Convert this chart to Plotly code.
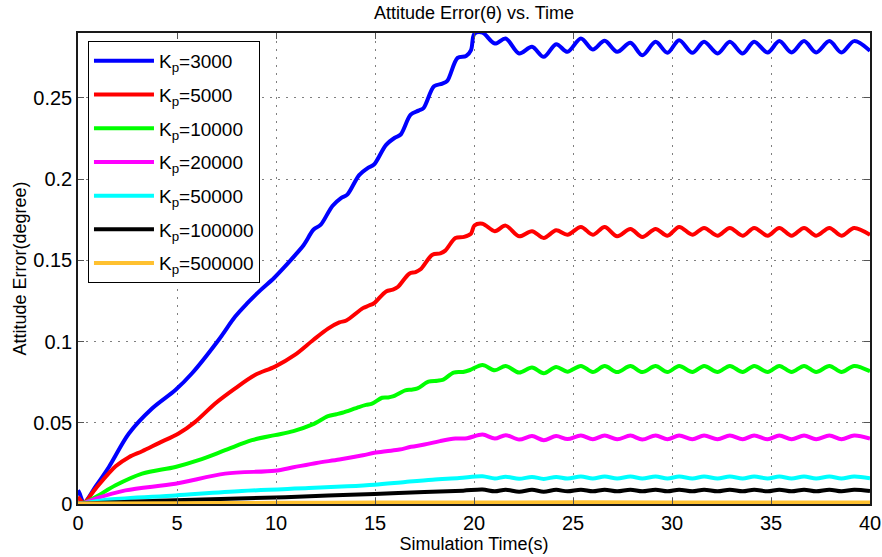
import plotly.graph_objects as go

# ---------------- data ----------------
# shared times of the peaks/troughs in the steady oscillation after t=20 s
t_ss = [20.43, 21.05, 21.6, 22.28, 22.93, 23.52, 24.15, 24.72, 25.4, 26.0, 26.6, 27.23,
        27.9, 28.5, 29.17, 29.77, 30.36, 31.03, 31.62, 32.3, 32.92, 33.57, 34.15, 34.83,
        35.42, 36.04, 36.67, 37.28, 37.95, 38.56, 39.2, 40.0]

# Kp = 3000
t_kp3000 = [0, 0.08, 0.3, 0.9, 1.56, 2.57, 3.74, 4.92, 5.76, 7.1, 7.94, 8.54, 9.22, 9.89,
            10.55, 10.9, 11.4, 11.9, 12.25, 12.85, 13.3, 13.6, 14.2, 14.65, 14.95, 15.55,
            16.0, 16.3, 16.8, 17.2, 17.45, 17.98, 18.4, 18.65, 19.17, 19.6, 19.85, 20.02]
v_kp3000 = [0.0085, 0.0065, 0.001, 0.011, 0.0228, 0.0434, 0.0588, 0.0702, 0.0805, 0.101,
            0.1154, 0.1235, 0.1317, 0.139, 0.1475, 0.1523, 0.1595, 0.169, 0.1718, 0.1835,
            0.1885, 0.1905, 0.2025, 0.207, 0.209, 0.221, 0.2255, 0.2275, 0.2397, 0.2422,
            0.2438, 0.2572, 0.2588, 0.2605, 0.2747, 0.2758, 0.2795, 0.2895]
ss_kp3000 = [0.2902, 0.2835, 0.2866, 0.2774, 0.2815, 0.2753, 0.2831, 0.2784, 0.2866, 0.2798,
             0.2852, 0.2784, 0.2840, 0.2763, 0.2846, 0.2778, 0.2856, 0.2778, 0.2846, 0.2774,
             0.2846, 0.2774, 0.2846, 0.2780, 0.2850, 0.2780, 0.2850, 0.2780, 0.2850, 0.2780,
             0.2850, 0.2790]

# Kp = 5000
t_kp5000 = [0, 0.08, 0.3, 0.89, 1.9, 2.57, 3.24, 4.08, 5.08, 5.92, 6.93, 7.94, 8.94, 9.95,
            10.95, 11.88, 12.63, 13.2, 13.55, 14.39, 14.7, 14.95, 15.56, 15.9, 16.15, 16.73,
            17.05, 17.3, 17.9, 18.3, 18.55, 19.06, 19.5, 19.85, 20.02]
v_kp5000 = [0.0045, 0.003, 0.0008, 0.0095, 0.0232, 0.0288, 0.0325, 0.0375, 0.0434, 0.0506,
            0.0619, 0.0712, 0.0794, 0.0846, 0.0918, 0.101, 0.108, 0.1118, 0.113, 0.1206,
            0.1222, 0.1236, 0.1309, 0.132, 0.1336, 0.1418, 0.1428, 0.1445, 0.1535, 0.1543,
            0.156, 0.1638, 0.1645, 0.1665, 0.1715]
ss_kp5000 = [0.1726, 0.168, 0.1714, 0.1648, 0.168, 0.1638, 0.1685, 0.1658, 0.1706, 0.1658,
             0.1706, 0.1648, 0.1693, 0.1644, 0.1693, 0.1652, 0.1706, 0.1658, 0.17, 0.1652,
             0.17, 0.1652, 0.17, 0.1652, 0.17, 0.1652, 0.17, 0.1652, 0.17, 0.1652, 0.17, 0.1657]

# Kp = 10000
t_kp10000 = [0, 0.3, 0.89, 1.9, 3.24, 4.92, 6.09, 7.43, 8.78, 9.95, 10.88, 11.85, 12.63,
             13.05, 13.35, 14.19, 14.55, 14.85, 15.36, 15.65, 15.9, 16.53, 16.85, 17.15,
             17.7, 18.15, 18.45, 18.97, 19.45, 19.8]
v_kp10000 = [0.0005, 0.0008, 0.0043, 0.0115, 0.0187, 0.0228, 0.027, 0.0331, 0.0393, 0.0424,
             0.0449, 0.049, 0.0541, 0.0553, 0.0562, 0.0597, 0.061, 0.0618, 0.0654, 0.0656,
             0.0662, 0.07, 0.0704, 0.0712, 0.0753, 0.0759, 0.0766, 0.0809, 0.0813, 0.0825]
ss_kp10000 = [0.0856, 0.0823, 0.085, 0.0809, 0.084, 0.0805, 0.0844, 0.0815, 0.085, 0.0813,
              0.0849, 0.0812, 0.0849, 0.0812, 0.0849, 0.0813, 0.085, 0.0813, 0.085, 0.0813,
              0.085, 0.0813, 0.085, 0.0813, 0.085, 0.0813, 0.085, 0.0813, 0.085, 0.0813,
              0.085, 0.0817]

# Kp = 20000
t_kp20000 = [0, 0.3, 0.89, 2.4, 4.92, 7.43, 9.95, 10.88, 12.05, 13.2, 14.39, 14.97, 15.56,
             16.24, 16.82, 17.5, 18.28, 19.06, 19.65]
v_kp20000 = [0.0003, 0.0006, 0.0033, 0.0084, 0.0125, 0.0187, 0.0205, 0.0226, 0.0253, 0.0274,
             0.03, 0.0315, 0.0325, 0.0335, 0.0352, 0.0366, 0.0387, 0.0403, 0.0405]
ss_kp20000 = [0.0428, 0.0403, 0.0424, 0.0397, 0.0418, 0.0393, 0.0418, 0.0400, 0.0422, 0.0398,
              0.0422, 0.0398, 0.0421, 0.0397, 0.0422, 0.0398, 0.0422, 0.0398, 0.0422, 0.0398,
              0.0422, 0.0398, 0.0422, 0.0398, 0.0422, 0.0398, 0.0422, 0.0398, 0.0422, 0.0398,
              0.0422, 0.0403]

# Kp = 50000
t_kp50000 = [0, 0.3, 1.56, 4.92, 8.27, 11.66, 13.6, 14.97, 16.53, 17.9, 19.26]
v_kp50000 = [0.0002, 0.0005, 0.0027, 0.0053, 0.008, 0.0098, 0.0109, 0.0119, 0.0136, 0.015,
             0.016]
ss_kp50000 = [0.0171, 0.0157, 0.0168, 0.0155, 0.0167, 0.0154, 0.0167, 0.0157, 0.0169, 0.0157,
              0.0169, 0.0157, 0.0169, 0.0157, 0.0169, 0.0157, 0.0169, 0.0157, 0.0169, 0.0157,
              0.0169, 0.0157, 0.0169, 0.0157, 0.0169, 0.0157, 0.0169, 0.0157, 0.0169, 0.0157,
              0.0169, 0.0158]

# Kp = 100000
t_kp100000 = [0, 0.3, 4.92, 9.95, 12.63, 14.97, 17.5, 19.45]
v_kp100000 = [0.0001, 0.0003, 0.0023, 0.004, 0.0053, 0.0062, 0.0074, 0.0082]
ss_kp100000 = [0.0089, 0.0078, 0.0088, 0.0076, 0.0087, 0.0076, 0.0087, 0.0078, 0.0088, 0.0078,
               0.0088, 0.0078, 0.0088, 0.0078, 0.0088, 0.0078, 0.0088, 0.0078, 0.0088, 0.0078,
               0.0088, 0.0078, 0.0088, 0.0078, 0.0088, 0.0078, 0.0088, 0.0078, 0.0088, 0.0078,
               0.0088, 0.0080]

# Kp = 500000
t_kp500000 = [0, 5, 10, 15, 20, 30, 40]
v_kp500000 = [0.0003, 0.0005, 0.0007, 0.0009, 0.001, 0.001, 0.001]

labels = ["3000", "5000", "10000", "20000", "50000", "100000", "500000"]
colors = ["#0000FF", "#FF0000", "#00FF00", "#FF00FF", "#00FFFF", "#000000", "#FFC130"]

x_ticks = [0, 5, 10, 15, 20, 25, 30, 35, 40]
y_ticks = [0, 0.05, 0.1, 0.15, 0.2, 0.25]
y_tick_text = ["0", "0.05", "0.1", "0.15", "0.2", "0.25"]

series = [
    (t_kp3000 + t_ss, v_kp3000 + ss_kp3000),
    (t_kp5000 + t_ss, v_kp5000 + ss_kp5000),
    (t_kp10000 + t_ss, v_kp10000 + ss_kp10000),
    (t_kp20000 + t_ss, v_kp20000 + ss_kp20000),
    (t_kp50000 + t_ss, v_kp50000 + ss_kp50000),
    (t_kp100000 + t_ss, v_kp100000 + ss_kp100000),
    (t_kp500000, v_kp500000),
]

FONT = "Liberation Sans, Arial, Helvetica, sans-serif"

fig = go.Figure()
for i, ((tx, vy), lab, col) in enumerate(zip(series, labels, colors)):
    fig.add_trace(go.Scatter(
        x=tx, y=vy, mode="lines",
        line=dict(color=col, width=4, shape="spline", smoothing=0.9),
        name="K<sub>p</sub>=" + lab,
        legendgroup="g%d" % i,
    ))

axis_common = dict(
    showline=True, linecolor="#1a1a1a", linewidth=1.5, mirror="ticks",
    ticks="inside", ticklen=6, tickcolor="#555555", tickwidth=1,
    showgrid=True, gridcolor="#7f7f7f", gridwidth=1, griddash="2px,6px",
    zeroline=False, automargin=False,
    tickfont=dict(family=FONT, size=20, color="black"),
)

fig.update_layout(
    width=882, height=557,
    margin=dict(l=78, r=12, t=33, b=53, autoexpand=False),
    paper_bgcolor="white", plot_bgcolor="white",
    font=dict(family=FONT, color="black"),
    title=dict(text="Attitude Error(θ) vs. Time", x=0.5, xref="paper",
               y=1 - 13 / 557, yref="container", xanchor="center", yanchor="middle",
               font=dict(family=FONT, size=18, color="black")),
    xaxis=dict(range=[0, 40], tickvals=x_ticks,
               title=dict(text="Simulation Time(s)", font=dict(family=FONT, size=18), standoff=0),
               **axis_common),
    yaxis=dict(range=[0, 0.29], tickvals=y_ticks, ticktext=y_tick_text,
               title=dict(text="Attitude Error(degree)", font=dict(family=FONT, size=18), standoff=2),
               **axis_common),
    legend=dict(x=0.0126, y=0.983, xanchor="left", yanchor="top",
                bgcolor="white", bordercolor="black", borderwidth=1,
                font=dict(family=FONT, size=19, color="black"),
                tracegroupgap=6, itemwidth=60),
    showlegend=True,
)

fig.write_html("out.html")
